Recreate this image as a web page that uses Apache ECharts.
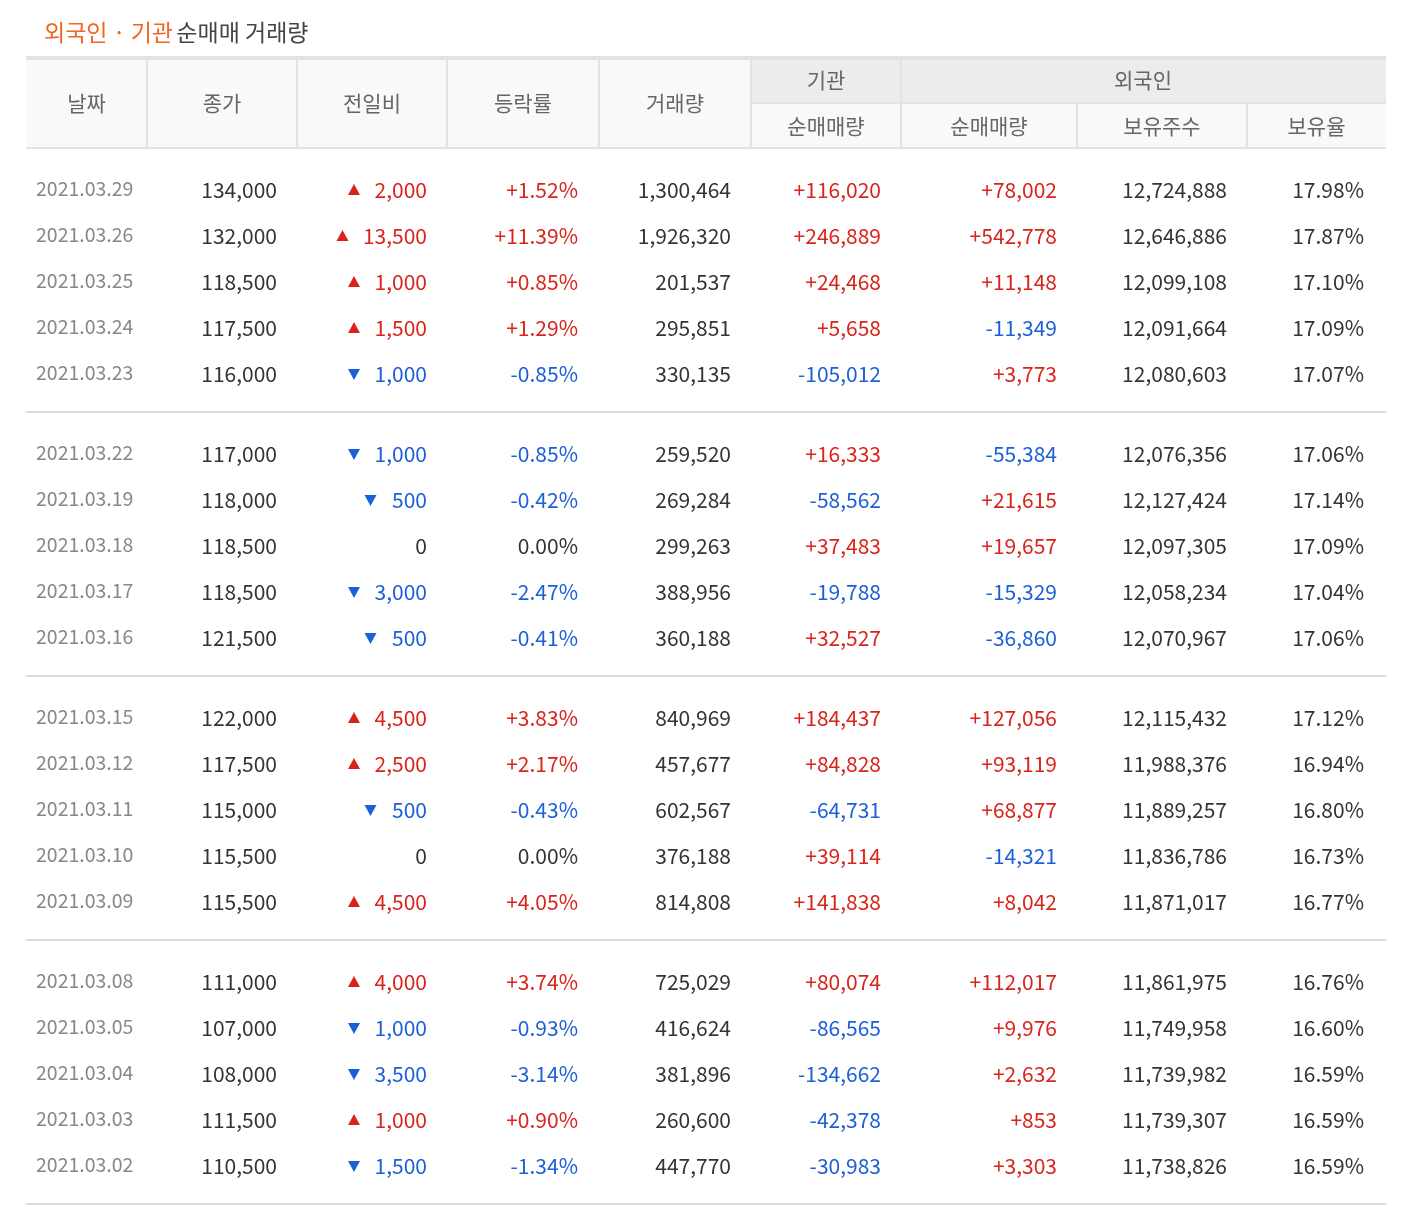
<!DOCTYPE html>
<html><head><meta charset="utf-8">
<script src="https://cdn.jsdelivr.net/npm/echarts@6/dist/echarts.min.js"></script>
<style>html,body{margin:0;background:#fff}#c{width:1404px;height:1218px}</style>
</head><body><div id="c"></div>
<script>
// table data
const dates = ['2021.03.29','2021.03.26','2021.03.25','2021.03.24','2021.03.23','2021.03.22','2021.03.19','2021.03.18','2021.03.17','2021.03.16','2021.03.15','2021.03.12','2021.03.11','2021.03.10','2021.03.09','2021.03.08','2021.03.05','2021.03.04','2021.03.03','2021.03.02'];
const closes = [134000,132000,118500,117500,116000,117000,118000,118500,118500,121500,122000,117500,115000,115500,115500,111000,107000,108000,111500,110500];
const changes = [2000,13500,1000,1500,-1000,-1000,-500,0,-3000,-500,4500,2500,-500,0,4500,4000,-1000,-3500,1000,-1500];
const rates = [1.52,11.39,0.85,1.29,-0.85,-0.85,-0.42,0,-2.47,-0.41,3.83,2.17,-0.43,0,4.05,3.74,-0.93,-3.14,0.90,-1.34];
const volumes = [1300464,1926320,201537,295851,330135,259520,269284,299263,388956,360188,840969,457677,602567,376188,814808,725029,416624,381896,260600,447770];
const instNet = [116020,246889,24468,5658,-105012,16333,-58562,37483,-19788,32527,184437,84828,-64731,39114,141838,80074,-86565,-134662,-42378,-30983];
const foreignNet = [78002,542778,11148,-11349,3773,-55384,21615,19657,-15329,-36860,127056,93119,68877,-14321,8042,112017,9976,2632,853,3303];
const holdings = [12724888,12646886,12099108,12091664,12080603,12076356,12127424,12097305,12058234,12070967,12115432,11988376,11889257,11836786,11871017,11861975,11749958,11739982,11739307,11738826];
const ratios = [17.98,17.87,17.10,17.09,17.07,17.06,17.14,17.09,17.04,17.06,17.12,16.94,16.80,16.73,16.77,16.76,16.60,16.59,16.59,16.59];

const RED = '#d9241b', BLUE = '#1b5fd9', DARK = '#333', GRAY = '#888';
const FONT = '"Noto Sans CJK KR", "Noto Sans", sans-serif';
const fmt = n => Math.abs(n).toLocaleString('en-US');
const signed = n => (n > 0 ? '+' : n < 0 ? '-' : '') + fmt(n);
const colr = n => n > 0 ? RED : n < 0 ? BLUE : DARK;
const rowY = i => 190 + 46 * i + 34 * Math.floor(i / 5);
const textW = s => s.replace(/[,.]/g, '').length * 11.5 + (s.length - s.replace(/[,.]/g, '').length) * 5;

const chart = echarts.init(document.getElementById('c'));

function txt(x, y, s, color, align, size) {
  return { type: 'text', x: x, y: y, style: { text: s, fill: color, align: align, verticalAlign: 'middle', font: (size || 21) + 'px ' + FONT } };
}

// header chrome
const cols = [26,147,297,447,599,751,901,1077,1247,1386];
const g = [];
g.push({ type: 'rect', shape: { x: 26, y: 58, width: 1360, height: 90 }, style: { fill: '#f9f9f9' } });
g.push({ type: 'rect', shape: { x: 751, y: 58, width: 635, height: 45 }, style: { fill: '#ececec' } });
g.push({ type: 'rect', shape: { x: 26, y: 56, width: 1360, height: 4 }, style: { fill: '#e3e3e3' } });
g.push({ type: 'rect', shape: { x: 26, y: 147, width: 1360, height: 2 }, style: { fill: '#e3e3e3' } });
g.push({ type: 'line', shape: { x1: 751, y1: 103, x2: 1386, y2: 103 }, style: { stroke: '#e3e3e3', lineWidth: 2 } });
[147,297,447,599,751,901].forEach(x => g.push({ type: 'line', shape: { x1: x, y1: 60, x2: x, y2: 147 }, style: { stroke: '#e3e3e3', lineWidth: 2 } }));
[1077,1247].forEach(x => g.push({ type: 'line', shape: { x1: x, y1: 103, x2: x, y2: 147 }, style: { stroke: '#e3e3e3', lineWidth: 2 } }));
const headMain = ['날짜','종가','전일비','등락률','거래량'];
headMain.forEach((h, i) => g.push(txt((cols[i] + cols[i+1]) / 2, 103, h, '#666', 'center')));
g.push(txt(826, 80, '기관', '#666', 'center'));
g.push(txt(1143, 80, '외국인', '#666', 'center'));
['순매매량','순매매량','보유주수','보유율'].forEach((h, i) => g.push(txt((cols[i+5] + cols[i+6]) / 2, 126, h, '#666', 'center')));
g.push({ type: 'text', x: 44, y: 32, style: { rich: { o: { fill: '#f26522', font: '23px ' + FONT }, d: { fill: '#444', font: '23px ' + FONT } }, text: '{o|외국인 · 기관} {d|순매매 거래량}', verticalAlign: 'middle' } });
[4, 9, 14, 19].forEach(i => g.push({ type: 'line', shape: { x1: 26, y1: rowY(i) + 38, x2: 1386, y2: rowY(i) + 38 }, style: { stroke: '#dcdcdc', lineWidth: 2 } }));

chart.setOption({
  animation: false,
  grid: { left: 0, right: 0, top: 0, bottom: 0 },
  xAxis: { type: 'value', min: 0, max: 1404, show: false },
  yAxis: { type: 'value', min: 0, max: 1218, inverse: true, show: false },
  graphic: g,
  series: [{
    type: 'custom',
    data: dates.map((d, i) => [0, rowY(i)]),
    renderItem: function (params, api) {
      const i = params.dataIndex;
      const y = api.coord([0, api.value(1)])[1];
      const X = x => api.coord([x, 0])[0];
      const ch = changes[i];
      const chS = fmt(ch);
      const kids = [
        txt(X(36), y - 1, dates[i], GRAY, 'left', 19.5),
        txt(X(277), y, fmt(closes[i]), DARK, 'right'),
        txt(X(427), y, chS, colr(ch), 'right'),
        txt(X(578), y, (rates[i] > 0 ? '+' : rates[i] < 0 ? '-' : '') + Math.abs(rates[i]).toFixed(2) + '%', colr(rates[i]), 'right'),
        txt(X(731), y, fmt(volumes[i]), DARK, 'right'),
        txt(X(881), y, signed(instNet[i]), colr(instNet[i]), 'right'),
        txt(X(1057), y, signed(foreignNet[i]), colr(foreignNet[i]), 'right'),
        txt(X(1227), y, fmt(holdings[i]), DARK, 'right'),
        txt(X(1364), y, ratios[i].toFixed(2) + '%', DARK, 'right')
      ];
      if (ch !== 0) {
        const cx = X(427) - textW(chS) - 22;
        const up = ch > 0;
        kids.push({ type: 'polygon', shape: { points: up ? [[cx - 6, y + 5], [cx + 6, y + 5], [cx, y - 6]] : [[cx - 6, y - 5], [cx + 6, y - 5], [cx, y + 6]] }, style: { fill: up ? RED : BLUE } });
      }
      return { type: 'group', children: kids };
    }
  }]
});
</script></body></html>
